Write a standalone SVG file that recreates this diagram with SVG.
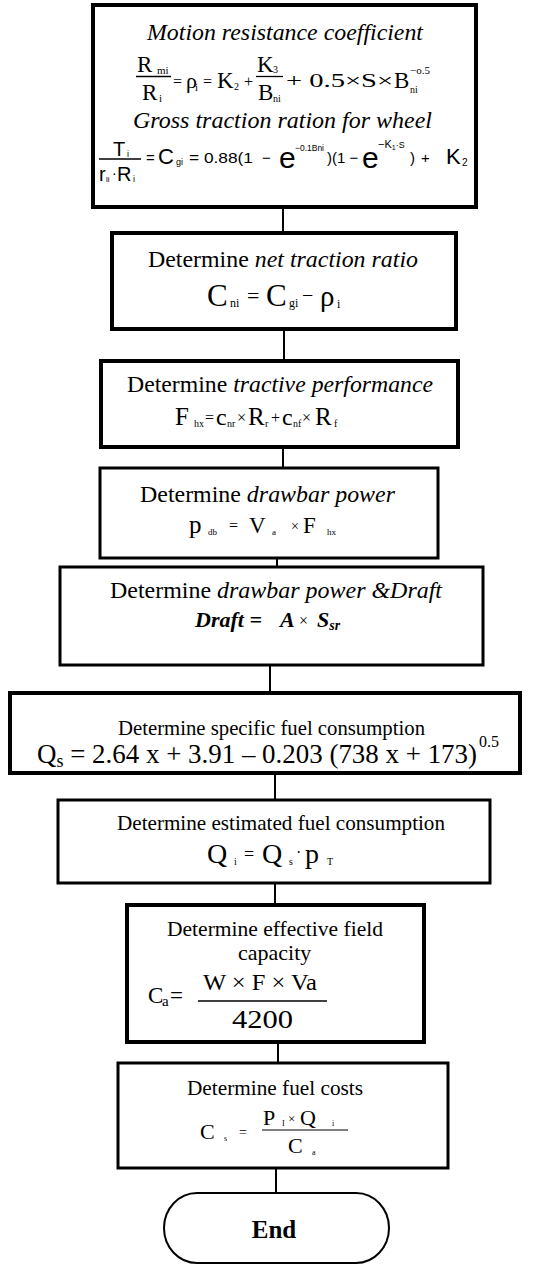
<svg xmlns="http://www.w3.org/2000/svg" width="533" height="1265" viewBox="0 0 533 1265">
<style>
.box{fill:#fff;stroke:#000;stroke-width:4}
.bt{fill:#fff;stroke:#000;stroke-width:3}
.con line{stroke:#000;stroke-width:2}
.s{font-family:"Liberation Serif",serif;fill:#000}
.a{font-family:"Liberation Sans",Arial,sans-serif;fill:#000}
.i{font-style:italic}
.bar{stroke:#000;stroke-width:1.3}
</style>
<rect width="533" height="1265" fill="#fff"/>
<g class="con">
<line x1="283" y1="207" x2="283" y2="233"/>
<line x1="284" y1="329" x2="284" y2="361"/>
<line x1="283" y1="447" x2="283" y2="468"/>
<line x1="277" y1="542" x2="277" y2="567"/>
<line x1="270" y1="665" x2="270" y2="693"/>
<line x1="275" y1="773" x2="275" y2="800"/>
<line x1="275" y1="883" x2="275" y2="905"/>
<line x1="278" y1="1042" x2="278" y2="1063"/>
<line x1="276" y1="1168" x2="276" y2="1193"/>
</g>
<g id="n1">
<rect class="box" x="93" y="5" width="383" height="202"/>
<text class="s i" x="147" y="40" font-size="23" textLength="276" lengthAdjust="spacingAndGlyphs">Motion resistance coefficient</text>
<text class="s" x="137" y="72" font-size="23">R</text><text class="s" x="157" y="74" font-size="11">mi</text>
<line class="bar" x1="136" y1="76.5" x2="171" y2="76.5"/>
<text class="s" x="142" y="100" font-size="23">R</text><text class="s" x="159" y="102" font-size="11">i</text>
<text class="s" x="173" y="87" font-size="16">=</text>
<text class="s" x="186" y="88" font-size="22">ρ</text><text class="s" x="195" y="91" font-size="11">i</text>
<text class="s" x="203" y="87" font-size="16">=</text>
<text class="s" x="217" y="88" font-size="23">K</text><text class="s" x="234" y="90" font-size="10">2</text>
<text class="s" x="244" y="87" font-size="16">+</text>
<text class="s" x="257" y="72" font-size="23">K</text><text class="s" x="273" y="73" font-size="10">3</text>
<line class="bar" x1="256" y1="76.5" x2="283" y2="76.5"/>
<text class="s" x="258" y="100" font-size="23">B</text><text class="s" x="273" y="102" font-size="10">ni</text>
<text class="s" x="286" y="87" font-size="19" textLength="107" lengthAdjust="spacingAndGlyphs">+ 0.5×S×</text>
<text class="s" x="394" y="88" font-size="23">B</text><text class="s" x="410" y="93" font-size="10">ni</text>
<text class="s" x="410" y="74" font-size="11">−o.5</text>
<text class="s i" x="133" y="128" font-size="23" textLength="299" lengthAdjust="spacingAndGlyphs">Gross traction ration for wheel</text>
<text class="a" x="113" y="156" font-size="20">T</text><text class="a" x="127" y="157" font-size="9">i</text>
<line class="bar" x1="99" y1="159" x2="141" y2="159"/>
<text class="a" x="99" y="181" font-size="20">r</text><text class="a" x="106" y="182" font-size="8">li</text>
<text class="a" x="112" y="178" font-size="14">·</text>
<text class="a" x="117" y="181" font-size="20">R</text><text class="a" x="133" y="182" font-size="9">i</text>
<text class="a" x="146" y="163" font-size="15">=</text>
<text class="a" x="158" y="164" font-size="22">C</text><text class="a" x="176" y="165" font-size="9">gi</text>
<text class="a" x="189" y="163" font-size="15" textLength="64" lengthAdjust="spacingAndGlyphs">= 0.88(1</text>
<text class="a" x="262" y="163" font-size="15">−</text>
<text class="a" x="279" y="168" font-size="30">e</text>
<text class="a" x="295" y="151" font-size="9" textLength="29" lengthAdjust="spacingAndGlyphs">−0.1Bni</text>
<text class="a" x="327" y="163" font-size="15">)(1 −</text>
<text class="a" x="362" y="168" font-size="30">e</text>
<text class="a" x="378" y="148" font-size="11">−K<tspan font-size="7" dy="2">1</tspan><tspan font-size="9" dy="-2">·S</tspan></text>
<text class="a" x="410" y="163" font-size="15">)</text>
<text class="a" x="421" y="163" font-size="15">+</text>
<text class="a" x="446" y="164" font-size="22">K</text><text class="a" x="462" y="166" font-size="10">2</text>
</g>
<g id="n2">
<rect class="box" x="112" y="233" width="344" height="96"/>
<text class="s" x="148" y="267" font-size="23" textLength="270" lengthAdjust="spacingAndGlyphs">Determine <tspan class="i">net traction ratio</tspan></text>
<text class="s" x="207" y="306" font-size="31">C</text><text class="s" x="230" y="307" font-size="12">ni</text>
<text class="s" x="247" y="303" font-size="22">=</text>
<text class="s" x="266" y="306" font-size="31">C</text><text class="s" x="289" y="307" font-size="12">gi</text>
<text class="s" x="302" y="302" font-size="20">−</text>
<text class="s" x="320" y="306" font-size="29">ρ</text><text class="s" x="337" y="308" font-size="12">i</text>
</g>
<g id="n3">
<rect class="box" x="101" y="361" width="357" height="86"/>
<text class="s" x="127" y="392" font-size="23" textLength="306" lengthAdjust="spacingAndGlyphs">Determine <tspan class="i">tractive performance</tspan></text>
<text class="s" x="175" y="425" font-size="25">F</text><text class="s" x="194" y="427" font-size="10">hx</text>
<text class="s" x="205" y="423" font-size="16">=</text>
<text class="s" x="216" y="425" font-size="24">c</text><text class="s" x="227" y="427" font-size="10">nr</text>
<text class="s" x="237" y="423" font-size="16">×</text>
<text class="s" x="248" y="425" font-size="25">R</text><text class="s" x="265" y="427" font-size="10">r</text>
<text class="s" x="271" y="423" font-size="16">+</text>
<text class="s" x="282" y="425" font-size="24">c</text><text class="s" x="293" y="427" font-size="10">nf</text>
<text class="s" x="302" y="423" font-size="16">×</text>
<text class="s" x="315" y="425" font-size="25">R</text><text class="s" x="334" y="427" font-size="10">f</text>
</g>
<g id="n4">
<rect class="bt" x="100" y="468" width="338" height="90"/>
<text class="s" x="140" y="502" font-size="23" textLength="255" lengthAdjust="spacingAndGlyphs">Determine <tspan class="i">drawbar power</tspan></text>
<g fill="#333">
<text class="s" x="189" y="533" font-size="25" fill="#333">p</text><text class="s" x="208" y="535" font-size="9" fill="#333">db</text>
<text class="s" x="229" y="531" font-size="16" fill="#333">=</text>
<text class="s" x="249" y="533" font-size="23" fill="#333">V</text><text class="s" x="272" y="535" font-size="9" fill="#333">a</text>
<text class="s" x="291" y="531" font-size="14" fill="#333">×</text>
<text class="s" x="303" y="533" font-size="23" fill="#333">F</text><text class="s" x="327" y="535" font-size="9" fill="#333">hx</text>
</g>
</g>
<g id="n5">
<rect class="bt" x="60" y="567" width="423" height="98"/>
<text class="s" x="110" y="598" font-size="23" textLength="332" lengthAdjust="spacingAndGlyphs">Determine <tspan class="i">drawbar power &amp;Draft</tspan></text>
<text class="s i" x="195" y="627" font-size="22" font-weight="bold">Draft =</text>
<text class="s i" x="280" y="627" font-size="22" font-weight="bold">A</text>
<text class="s" x="299" y="626" font-size="16">×</text>
<text class="s i" x="317" y="627" font-size="22" font-weight="bold">S<tspan font-size="14" dy="3">sr</tspan></text>
</g>
<g id="n6">
<rect class="box" x="10" y="693" width="510" height="80"/>
<text class="s" x="118" y="735" font-size="20" textLength="307" lengthAdjust="spacingAndGlyphs">Determine specific fuel consumption</text>
<text class="s" x="37" y="763" font-size="27" textLength="440" lengthAdjust="spacingAndGlyphs">Q<tspan font-size="18" dy="4">s</tspan><tspan dy="-4"> = 2.64 x + 3.91 – 0.203 (738 x + 173)</tspan></text>
<text class="s" x="479" y="747" font-size="16">0.5</text>
</g>
<g id="n7">
<rect class="bt" x="58" y="800" width="432" height="83"/>
<text class="s" x="117" y="830" font-size="22" textLength="328" lengthAdjust="spacingAndGlyphs">Determine  estimated fuel consumption</text>
<text class="s" x="207" y="863" font-size="28">Q</text><text class="s" x="234" y="865" font-size="10">i</text>
<text class="s" x="244" y="860" font-size="18">=</text>
<text class="s" x="262" y="863" font-size="28">Q</text><text class="s" x="289" y="865" font-size="10">s</text>
<text class="s" x="296" y="858" font-size="16">·</text>
<text class="s" x="305" y="863" font-size="28">p</text><text class="s" x="327" y="865" font-size="10">T</text>
</g>
<g id="n8">
<rect class="box" x="127" y="905" width="297" height="137"/>
<text class="s" x="167" y="936" font-size="22" textLength="216" lengthAdjust="spacingAndGlyphs">Determine  effective field</text>
<text class="s" x="238" y="960" font-size="22">capacity</text>
<text class="s" x="148" y="1003" font-size="23">C</text><text class="s" x="162" y="1006" font-size="15">a</text>
<text class="s" x="170" y="1003" font-size="23">=</text>
<text class="s" x="203" y="990" font-size="24" textLength="114" lengthAdjust="spacingAndGlyphs">W × F × Va</text>
<line class="bar" x1="198" y1="1001" x2="327" y2="1001"/>
<text class="s" x="232" y="1028" font-size="25" textLength="61" lengthAdjust="spacingAndGlyphs">4200</text>
</g>
<g id="n9">
<rect class="bt" x="118" y="1063" width="330" height="105"/>
<text class="s" x="187" y="1095" font-size="22" textLength="176" lengthAdjust="spacingAndGlyphs">Determine  fuel costs</text>
<text class="s" x="200" y="1139" font-size="22">C</text><text class="s" x="224" y="1141" font-size="8">s</text>
<text class="s" x="239" y="1137" font-size="14">=</text>
<text class="s" x="263" y="1125" font-size="22">P</text><text class="s" x="282" y="1126" font-size="8">I</text>
<text class="s" x="288" y="1123" font-size="13">×</text>
<text class="s" x="300" y="1125" font-size="22">Q</text><text class="s" x="332" y="1126" font-size="8">i</text>
<line x1="262" y1="1130" x2="348" y2="1130" stroke="#000" stroke-width="1"/>
<text class="s" x="288" y="1153" font-size="22">C</text><text class="s" x="312" y="1155" font-size="8">a</text>
</g>
<g id="end">
<path d="M197 1193 H356 A33 35 0 0 1 356 1263 H197 A33 35 0 0 1 197 1193 Z" fill="#fff" stroke="#000" stroke-width="2"/>
<text class="s" x="274" y="1238" font-size="25" font-weight="bold" text-anchor="middle">End</text>
</g>
</svg>
